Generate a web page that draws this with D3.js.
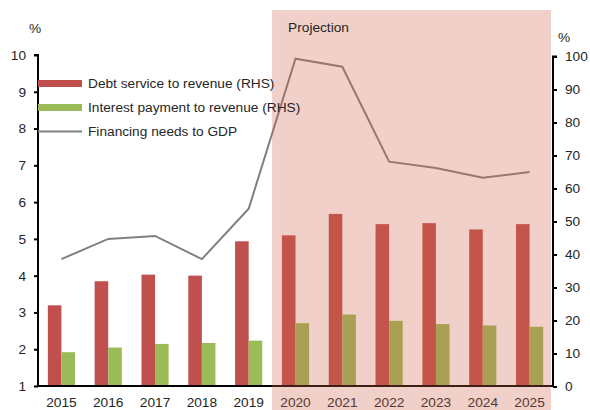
<!DOCTYPE html>
<html>
<head>
<meta charset="utf-8">
<script src="https://cdn.jsdelivr.net/npm/d3@7"></script>
<style>
  html, body { margin: 0; padding: 0; background: #fff; }
  svg { display: block; font-family: "Liberation Sans", Arial, sans-serif; }
</style>
</head>
<body>
<svg id="chart" width="590" height="410"></svg>
<script>
// Years on the category axis; from 2020 onward the figures are projections
const years = ["2015", "2016", "2017", "2018", "2019", "2020", "2021", "2022", "2023", "2024", "2025"];
const firstProjectedYear = "2020";

// Bars, right axis (% of revenue)
const debtService = [24.6, 31.9, 33.9, 33.6, 44.0, 45.8, 52.3, 49.2, 49.5, 47.6, 49.2];
const interestPayment = [10.4, 11.8, 12.9, 13.2, 13.9, 19.2, 21.8, 19.9, 18.9, 18.5, 18.1];

// Line, left axis (% of GDP)
const financingNeeds = [4.45, 5.0, 5.08, 4.45, 5.82, 9.9, 9.68, 7.1, 6.93, 6.66, 6.82];

// Tick values
const leftTicks = [1, 2, 3, 4, 5, 6, 7, 8, 9, 10];
const rightTicks = [0, 10, 20, 30, 40, 50, 60, 70, 80, 90, 100];

const legendItems = [
  { label: "Debt service to revenue (RHS)", type: "bar", color: "#c0504d" },
  { label: "Interest payment to revenue (RHS)", type: "bar", color: "#9bbb59" },
  { label: "Financing needs to GDP", type: "line", color: "#808080" }
];

const svg = d3.select("#chart");
const textColor = "#262626";
const fontSize = 13.7;

const plotLeft = 38, plotRight = 553, plotBottom = 386;

const x = d3.scaleBand().domain(years).range([plotLeft, plotRight]).padding(0);
const yLeft = d3.scaleLinear().domain([1, 10]).range([plotBottom, 55]);
const yRight = d3.scaleLinear().domain([0, 100]).range([plotBottom + 0.5, 56.5]);

const barW = x.bandwidth() * 0.29;

// Bars
const rows = years.map((yr, i) => ({ yr, debt: debtService[i], intr: interestPayment[i], fin: financingNeeds[i] }));

svg.append("g").selectAll("rect").data(rows).join("rect")
  .attr("x", d => x(d.yr) + x.bandwidth() / 2 - barW)
  .attr("y", d => yRight(d.debt))
  .attr("width", barW)
  .attr("height", d => yRight(0) - yRight(d.debt))
  .attr("fill", "#c0504d");

svg.append("g").selectAll("rect").data(rows).join("rect")
  .attr("x", d => x(d.yr) + x.bandwidth() / 2)
  .attr("y", d => yRight(d.intr))
  .attr("width", barW)
  .attr("height", d => yRight(0) - yRight(d.intr))
  .attr("fill", "#9bbb59");

// Financing needs line
const line = d3.line()
  .x(d => x(d.yr) + x.bandwidth() / 2)
  .y(d => yLeft(d.fin));

svg.append("path")
  .datum(rows)
  .attr("d", line)
  .attr("fill", "none")
  .attr("stroke", "#808080")
  .attr("stroke-width", 2);

// Left axis
const leftAxis = svg.append("g")
  .attr("transform", `translate(${plotLeft},0)`)
  .call(d3.axisLeft(yLeft).tickValues(leftTicks).tickSize(4).tickPadding(8).tickFormat(d3.format("d")));
leftAxis.select(".domain").attr("stroke", "#000").attr("stroke-width", 2).attr("d", `M-4,${yLeft(10)}H0V${plotBottom}`);
leftAxis.selectAll(".tick line").attr("stroke", "#000").attr("stroke-width", 2);
leftAxis.selectAll(".tick text").attr("font-size", fontSize).attr("fill", textColor)
  .attr("font-family", "Liberation Sans, Arial, sans-serif");

// Right axis
const rightAxis = svg.append("g")
  .attr("transform", `translate(${plotRight},0)`)
  .call(d3.axisRight(yRight).tickValues(rightTicks).tickSize(4).tickPadding(8).tickFormat(d3.format("d")));
rightAxis.select(".domain").attr("stroke", "#000").attr("stroke-width", 2).attr("d", `M4,${yRight(100)}H0V${plotBottom}`);
rightAxis.selectAll(".tick line").attr("stroke", "#000").attr("stroke-width", 2);
rightAxis.selectAll(".tick text").attr("font-size", fontSize).attr("fill", textColor)
  .attr("font-family", "Liberation Sans, Arial, sans-serif");

// Bottom axis with year labels
const bottomAxis = svg.append("g")
  .attr("transform", `translate(0,${plotBottom})`)
  .call(d3.axisBottom(x).tickSize(0).tickPadding(11));
bottomAxis.select(".domain").attr("stroke", "#000").attr("stroke-width", 2)
  .attr("d", `M${plotLeft},0H${plotRight}`);
bottomAxis.selectAll(".tick text").attr("font-size", fontSize).attr("fill", textColor)
  .attr("font-family", "Liberation Sans, Arial, sans-serif");

// Unit labels
svg.append("text").attr("x", 35).attr("y", 33).attr("text-anchor", "middle")
  .attr("font-size", fontSize).attr("fill", textColor).text("%");
svg.append("text").attr("x", 564).attr("y", 42).attr("text-anchor", "middle")
  .attr("font-size", fontSize).attr("fill", textColor).text("%");

// Projection band laid over the projected years
svg.append("rect")
  .attr("x", x(firstProjectedYear))
  .attr("y", 10)
  .attr("width", plotRight - 2 - x(firstProjectedYear))
  .attr("height", 400)
  .attr("fill", "rgb(205,98,72)")
  .attr("fill-opacity", 0.3);

svg.append("text")
  .attr("x", x(firstProjectedYear) + 16).attr("y", 32)
  .attr("font-size", fontSize).attr("fill", textColor)
  .text("Projection");

// Legend
const legend = svg.append("g");
legendItems.forEach((item, i) => {
  const cy = 83.5 + i * 24;
  if (item.type === "bar") {
    legend.append("rect").attr("x", 38).attr("y", cy - 3.5).attr("width", 44).attr("height", 7).attr("fill", item.color);
  } else {
    legend.append("line").attr("x1", 38).attr("x2", 82).attr("y1", cy).attr("y2", cy)
      .attr("stroke", item.color).attr("stroke-width", 2);
  }
  legend.append("text").attr("x", 88).attr("y", cy + 4.5)
    .attr("font-size", fontSize).attr("fill", textColor).text(item.label);
});
</script>
</body>
</html>
